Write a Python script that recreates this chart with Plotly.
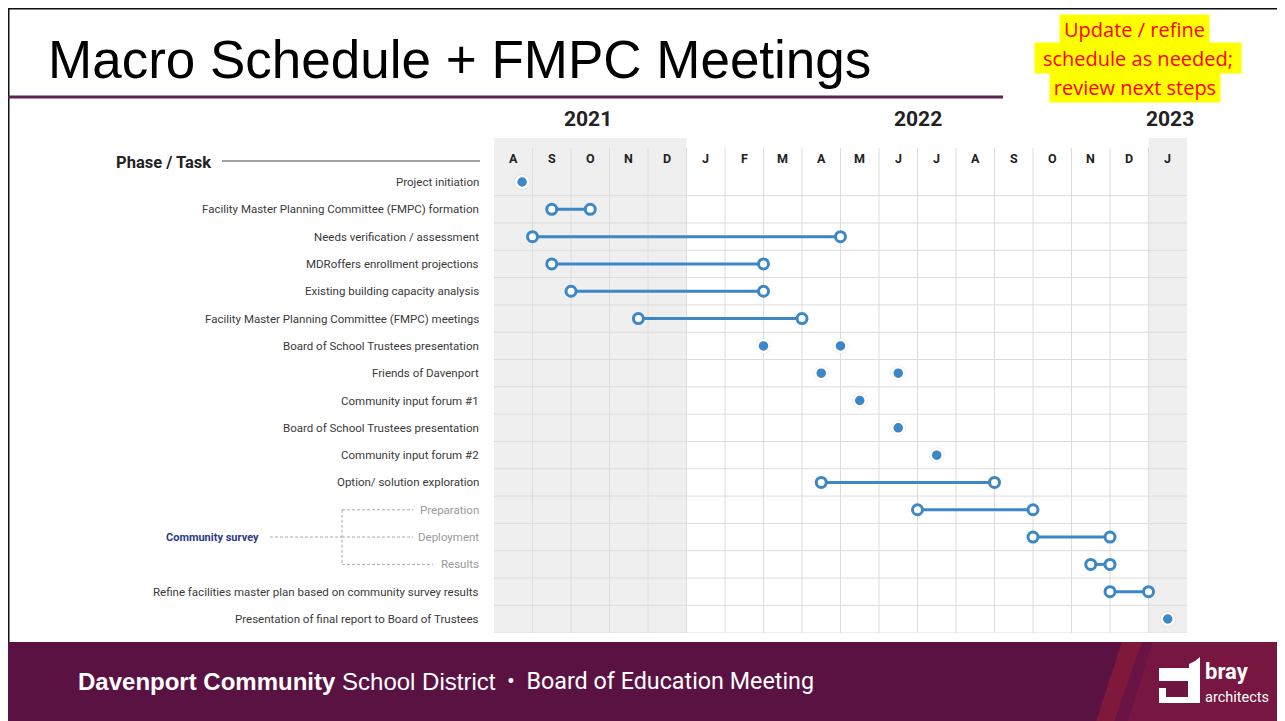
import plotly.graph_objects as go

W, H = 1285, 721

# ---------------- data ----------------
months = ["A", "S", "O", "N", "D", "J", "F", "M", "A", "M", "J", "J", "A", "S", "O", "N", "D", "J"]
years = ["2021", "2022", "2023"]
year_pos = [2.45, 11.0, 17.55]          # in months from Aug 2021
year_spans = [(0, 5), (5, 17), (17, 18)]  # months covered by each year

task_labels = [
    "Project initiation",
    "Facility Master Planning Committee (FMPC) formation",
    "Needs verification / assessment",
    "MDRoffers enrollment projections",
    "Existing building capacity analysis",
    "Facility Master Planning Committee (FMPC) meetings",
    "Board of School Trustees presentation",
    "Friends of Davenport",
    "Community input forum #1",
    "Board of School Trustees presentation",
    "Community input forum #2",
    "Option/ solution exploration",
    "Preparation",
    "Deployment",
    "Results",
    "Refine facilities master plan based on community survey results",
    "Presentation of final report to Board of Trustees",
]
sub_rows = [12, 13, 14]
group_label = "Community survey"

range_rows = [1, 2, 3, 4, 5, 11, 12, 13, 14, 15]
range_start = [1.5, 1.0, 1.5, 2.0, 3.75, 8.5, 11.0, 14.0, 15.5, 16.0]
range_end = [2.5, 9.0, 7.0, 7.0, 8.0, 13.0, 14.0, 16.0, 16.0, 17.0]

event_rows = [0, 6, 6, 7, 7, 8, 9, 10, 16]
event_month = [0.73, 7.0, 9.0, 8.5, 10.5, 9.5, 10.5, 11.5, 17.5]

# ---------------- helpers ----------------
OFF = 8  # page body margin

def PX(x):
    return (x - OFF) / W

def PY(y):
    return 1 - (y - OFF) / H

BLUE = "#3b87c7"
GRID = "#dcdcdc"
SHADE = "#efefef"

n_rows = len(task_labels)
n_months = len(months)
ROW0, ROWSTEP = 182.0, 27.3125
GRID_TOP, GRID_BOT = 138.0, 633.0
y_top = (GRID_TOP - ROW0) / ROWSTEP
y_bot = (GRID_BOT - ROW0) / ROWSTEP
vline_top = (148.0 - ROW0) / ROWSTEP

fig = go.Figure()

# range lines
lx, ly = [], []
for r, s, e in zip(range_rows, range_start, range_end):
    lx += [s, e, None]
    ly += [r, r, None]
fig.add_trace(go.Scatter(x=lx, y=ly, mode="lines", line=dict(color=BLUE, width=3),
                         hoverinfo="skip", showlegend=False))
# range endpoints (open circles)
fig.add_trace(go.Scatter(x=range_start + range_end, y=range_rows + range_rows, mode="markers",
                         marker=dict(symbol="circle", size=10, color="white",
                                     line=dict(color=BLUE, width=3)),
                         hoverinfo="skip", showlegend=False))
# events: halo + filled dot
fig.add_trace(go.Scatter(x=event_month, y=event_rows, mode="markers",
                         marker=dict(size=16, color="rgba(0,0,0,0.07)", line=dict(width=0)),
                         hoverinfo="skip", showlegend=False))
fig.add_trace(go.Scatter(x=event_month, y=event_rows, mode="markers",
                         marker=dict(size=12, color=BLUE, line=dict(color="white", width=2.5)),
                         hoverinfo="skip", showlegend=False))

shapes = []
# shaded years (first and last)
for (a, b), yr in zip(year_spans, years):
    if yr in ("2021", "2023"):
        shapes.append(dict(type="rect", xref="x", yref="y", x0=a, x1=b, y0=y_top, y1=y_bot,
                           fillcolor=SHADE, line=dict(width=0), layer="below"))
# vertical grid lines
for k in range(1, n_months):
    shapes.append(dict(type="line", xref="x", yref="y", x0=k, x1=k, y0=vline_top, y1=y_bot,
                       line=dict(color=GRID, width=1), layer="below"))
# horizontal grid lines
for i in range(n_rows - 1):
    shapes.append(dict(type="line", xref="x", yref="y", x0=0, x1=n_months, y0=i + 0.5, y1=i + 0.5,
                       line=dict(color=GRID, width=1), layer="below"))
shapes.append(dict(type="line", xref="x", yref="y", x0=0, x1=n_months, y0=y_bot, y1=y_bot,
                   line=dict(color=GRID, width=1), layer="below"))

# frame lines (at the very edges of the drawing area)
shapes.append(dict(type="line", xref="paper", yref="paper", x0=0, x1=1, y0=1, y1=1,
                   line=dict(color="#111111", width=3)))
shapes.append(dict(type="line", xref="paper", yref="paper", x0=0, x1=0, y0=0, y1=1,
                   line=dict(color="#111111", width=3)))
# title underline
shapes.append(dict(type="line", xref="paper", yref="paper", x0=0, x1=PX(1003), y0=PY(97), y1=PY(97),
                   line=dict(color="#5a2350", width=3)))
# Phase / Task rule
shapes.append(dict(type="line", xref="paper", yref="paper", x0=PX(222), x1=PX(480), y0=PY(161), y1=PY(161),
                   line=dict(color="#444444", width=1)))

# community survey dashed connectors
DASH = dict(color="#a8a8a8", width=1, dash="3px,2px")
r_prep, r_dep, r_res = sub_rows
shapes += [
    dict(type="line", xref="paper", yref="y", x0=PX(270), x1=PX(342), y0=r_dep, y1=r_dep, line=DASH),
    dict(type="line", xref="paper", yref="y", x0=PX(342), x1=PX(342), y0=r_prep, y1=r_res, line=DASH),
    dict(type="line", xref="paper", yref="y", x0=PX(342), x1=PX(413), y0=r_prep, y1=r_prep, line=DASH),
    dict(type="line", xref="paper", yref="y", x0=PX(342), x1=PX(413), y0=r_dep, y1=r_dep, line=DASH),
    dict(type="line", xref="paper", yref="y", x0=PX(342), x1=PX(433), y0=r_res, y1=r_res, line=DASH),
]

# footer band
FOOT = "#5a1243"
shapes.append(dict(type="rect", xref="paper", yref="paper", x0=0, x1=1, y0=0, y1=PY(642),
                   fillcolor=FOOT, line=dict(width=0)))

def path(points):
    return "M " + " L ".join(f"{PX(x):.5f},{PY(y):.5f}" for x, y in points) + " Z"

shapes.append(dict(type="path", xref="paper", yref="paper",
                   path=path([(1152, 642), (1300, 642), (1300, 740), (1122, 740)]),
                   fillcolor="#771640", line=dict(width=0)))
shapes.append(dict(type="path", xref="paper", yref="paper",
                   path=path([(1122, 642), (1142, 642), (1108, 740), (1090, 740)]),
                   fillcolor="rgba(160,30,55,0.55)", line=dict(width=0)))
shapes.append(dict(type="path", xref="paper", yref="paper",
                   path=path([(1142, 642), (1152, 642), (1122, 740), (1108, 740)]),
                   fillcolor="rgba(110,20,70,0.8)", line=dict(width=0)))
# bray logo icon
shapes.append(dict(type="path", xref="paper", yref="paper",
                   path=path([(1159, 668), (1189, 668), (1189, 664), (1195, 661), (1200, 657),
                              (1200, 703), (1159, 703)]),
                   fillcolor="white", line=dict(width=0)))
shapes.append(dict(type="path", xref="paper", yref="paper",
                   path=path([(1159, 681), (1188, 681), (1188, 697), (1166, 697), (1166, 688), (1159, 688)]),
                   fillcolor="#6e1541", line=dict(width=0)))

annotations = []
LABEL_FONT = "Roboto"
# title
annotations.append(dict(text="Macro Schedule + FMPC Meetings", xref="paper", yref="paper",
                        x=PX(46), y=PY(60), xanchor="left", yanchor="middle", showarrow=False,
                        font=dict(family="Liberation Sans, Arial", size=53, color="#000000")))
# yellow note
note_lines = ["Update / refine", "schedule as needed;", "review next steps"]
note_boxes = [(1060, 1209, 15, 43), (1035, 1241, 43, 73), (1050, 1220, 73, 102)]
for t, (x0, x1, y0, y1) in zip(note_lines, note_boxes):
    annotations.append(dict(text=t, xref="paper", yref="paper", x=PX((x0 + x1) / 2), y=PY((y0 + y1) / 2),
                            xanchor="center", yanchor="middle", showarrow=False,
                            width=x1 - x0, height=y1 - y0, bgcolor="#ffff00", borderpad=0,
                            font=dict(family="Open Sans", size=20, color="#ff0000")))
# years
for yr, xp in zip(years, year_pos):
    annotations.append(dict(text=f"<b>{yr}</b>", xref="x", yref="paper", x=xp, y=PY(119),
                            xanchor="center", yanchor="middle", showarrow=False,
                            font=dict(family=LABEL_FONT, size=21, color="#222222")))
# months
for k, m in enumerate(months):
    annotations.append(dict(text=f"<b>{m}</b>", xref="x", yref="paper", x=k + 0.5, y=PY(158),
                            xanchor="center", yanchor="middle", showarrow=False,
                            font=dict(family=LABEL_FONT, size=12.5, color="#222222")))
# phase / task header
annotations.append(dict(text="<b>Phase / Task</b>", xref="paper", yref="paper", x=PX(114), y=PY(162),
                        xanchor="left", yanchor="middle", showarrow=False,
                        font=dict(family=LABEL_FONT, size=16.5, color="#222222")))
# task labels
for i, t in enumerate(task_labels):
    col = "#9a9a9a" if i in sub_rows else "#3a3a3a"
    annotations.append(dict(text=t, xref="paper", yref="y", x=PX(481), y=i,
                            xanchor="right", yanchor="middle", showarrow=False,
                            font=dict(family=LABEL_FONT, size=11.5, color=col)))
annotations.append(dict(text=f"<b>{group_label}</b>", xref="paper", yref="y", x=PX(164), y=r_dep,
                        xanchor="left", yanchor="middle", showarrow=False,
                        font=dict(family=LABEL_FONT, size=11, color="#2e3a87")))
# footer text
annotations.append(dict(text="<b>Davenport Community</b> School District", xref="paper", yref="paper",
                        x=PX(76), y=PY(681), xanchor="left", yanchor="middle", showarrow=False,
                        font=dict(family="Liberation Sans, Arial", size=24, color="white")))
annotations.append(dict(text="\u2022  Board of Education Meeting", xref="paper", yref="paper",
                        x=PX(505), y=PY(681), xanchor="left", yanchor="middle", showarrow=False,
                        font=dict(family=LABEL_FONT, size=23.3, color="white")))
annotations.append(dict(text="<b>bray</b>", xref="paper", yref="paper",
                        x=PX(1203), y=PY(671), xanchor="left", yanchor="middle", showarrow=False,
                        font=dict(family=LABEL_FONT, size=22, color="white")))
annotations.append(dict(text="architects", xref="paper", yref="paper",
                        x=PX(1203), y=PY(697), xanchor="left", yanchor="middle", showarrow=False,
                        font=dict(family=LABEL_FONT, size=14.5, color="white")))

fig.update_layout(
    width=W, height=H, autosize=False,
    margin=dict(l=0, r=0, t=0, b=0, pad=0),
    paper_bgcolor="white", plot_bgcolor="rgba(0,0,0,0)",
    xaxis=dict(domain=[PX(494), PX(1187)], range=[0, n_months], visible=False, fixedrange=True),
    yaxis=dict(domain=[PY(GRID_BOT), PY(GRID_TOP)], range=[y_bot, y_top], visible=False, fixedrange=True),
    shapes=shapes, annotations=annotations, showlegend=False,
)

fig.write_html("out.html")
